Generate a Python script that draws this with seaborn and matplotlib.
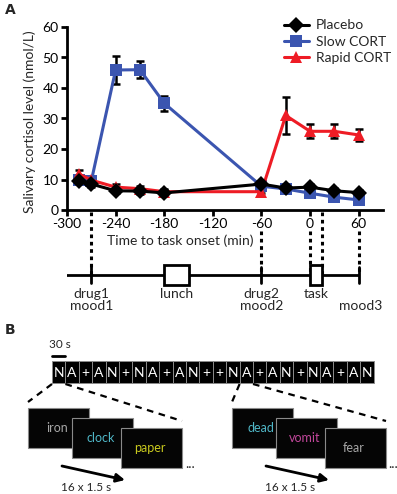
import matplotlib
matplotlib.use("Agg")
import matplotlib.pyplot as plt
import matplotlib.patches as mpatches
import numpy as np
import pandas as pd
import seaborn as sns

# ---------------- data ----------------
times = [-285, -270, -240, -210, -180, -60, -30, 0, 30, 60]
placebo = [9.5, 8.5, 6.3, 6.2, 5.6, 8.5, 7.2, 7.5, 6.3, 5.7]
placebo_sem = [1.0, 1.0, 0.8, 0.8, 0.8, 0.8, 0.8, 1.0, 1.0, 0.9]
slow = [10.0, 9.5, 45.9, 46.0, 35.0, 7.8, 6.9, 5.5, 4.2, 3.3]
slow_sem = [1.0, 1.0, 4.5, 2.8, 2.4, 0.8, 0.8, 0.8, 0.8, 0.8]
rapid = [11.8, 9.8, 7.5, 7.0, 6.0, 6.0, 31.0, 25.8, 25.8, 24.6]
rapid_sem = [1.2, 1.0, 0.9, 0.9, 0.8, 0.5, 6.0, 2.3, 2.3, 2.0]
groups = ["Placebo", "Slow CORT", "Rapid CORT"]
x_ticks = [-300, -240, -180, -120, -60, 0, 60]
y_ticks = [0, 10, 20, 30, 40, 50, 60]

# timeline events
tick_events = [-270, -60, 60]
dotted_events = [-270, -60, 0, 15, 60]
dotted_from_axis = [True, False, False, True, False]
lunch_span = (-180, -150)
task_span = (0, 15)
timeline_labels = ["drug1\nmood1", "lunch", "drug2\nmood2", "task", "\nmood3"]
timeline_label_x = [-270, -165, -60, 7.5, 62]

# panel B
sequence = list("NA+AN+NA+AN++NA+AN+NA+AN")
neutral_words = ["iron", "clock", "paper"]
neutral_colors = ["#a6a6a6", "#4fb6c6", "#c9c91e"]
negative_words = ["dead", "vomit", "fear"]
negative_colors = ["#4fb6c6", "#c2479b", "#a6a6a6"]
zoom_cells = [0, 14]
block_label = "30 s"
trial_label = "16 x 1.5 s"

# ---------------- style ----------------
sns.set_style("ticks")
plt.rcParams["font.family"] = ["Lato", "DejaVu Sans"]
BLACK = "#000000"
BLUE = "#3b55b0"
RED = "#ee1c25"
palette = {"Placebo": BLACK, "Slow CORT": BLUE, "Rapid CORT": RED}
markers = {"Placebo": "D", "Slow CORT": "s", "Rapid CORT": "^"}
FS = 10

W, H = 397, 494
fig = plt.figure(figsize=(W / 100, H / 100), dpi=100)

def fr(x0, y0, x1, y1):
    return [x0 / W, 1 - y1 / H, (x1 - x0) / W, (y1 - y0) / H]

# ---------------- panel A ----------------
ax = fig.add_axes(fr(67, 27, 383, 210))
df = pd.DataFrame({
    "time": times * 3,
    "cortisol": placebo + slow + rapid,
    "group": ["Placebo"] * len(times) + ["Slow CORT"] * len(times) + ["Rapid CORT"] * len(times),
})
sems = {"Placebo": placebo_sem, "Slow CORT": slow_sem, "Rapid CORT": rapid_sem}
means = {"Placebo": placebo, "Slow CORT": slow, "Rapid CORT": rapid}
draw_order = ["Slow CORT", "Rapid CORT", "Placebo"]
for i, g in enumerate(draw_order):
    ax.errorbar(times, means[g], yerr=sems[g], fmt="none", ecolor="black",
                elinewidth=1.8, capsize=3, capthick=1.8, zorder=2 + i * 2)
sns.lineplot(data=df, x="time", y="cortisol", hue="group", style="group",
             hue_order=draw_order, style_order=draw_order,
             palette=palette, markers=markers, dashes=False,
             markersize=8, linewidth=2.2, markeredgewidth=0,
             errorbar=None, ax=ax, legend=False)
for i, line in enumerate(ax.get_lines()):
    line.set_zorder(3 + i * 2)

ax.set_xlim(-300, 90)
ax.set_ylim(0, 60)
ax.set_xticks(x_ticks)
ax.set_yticks(y_ticks)
ax.set_xticklabels([str(t) for t in x_ticks])
ax.tick_params(axis="both", direction="out", length=4, width=2, labelsize=FS,
               pad=2, colors="black")
for s in ["top", "right"]:
    ax.spines[s].set_visible(False)
for s in ["left", "bottom"]:
    ax.spines[s].set_linewidth(2)
    ax.spines[s].set_color("black")
ax.set_xlabel("Time to task onset (min)", fontsize=FS)
ax.xaxis.set_label_coords((180 - 67) / 316, -(241 - 210) / 183)
ax.xaxis.label.set_va("center")
ax.set_ylabel("Salivary cortisol level (nmol/L)", fontsize=FS)
ax.yaxis.set_label_coords(-(67 - 30) / 316, (210 - 122) / 183)
ax.yaxis.label.set_va("center")

handles = [plt.Line2D([], [], color=palette[g], marker=markers[g], lw=2.2,
                      markersize=8, markeredgewidth=0) for g in groups]
ax.legend(handles, groups, loc="upper right", bbox_to_anchor=(1.065, 1.11),
          frameon=False, fontsize=FS, handlelength=1.8, handletextpad=0.5,
          labelspacing=0.3)

# ---------------- timeline ----------------
tl = fig.add_axes(fr(67, 212, 383, 320))
tl.set_xlim(-300, 90)
tl.set_ylim(320, 212)
tl.axis("off")
TLY = 275
tl.plot([-304, 60], [TLY, TLY], color="black", lw=2, solid_capstyle="butt")
for t in tick_events:
    tl.plot([t, t], [TLY - 8, TLY + 8], color="black", lw=2)
for t, fa in zip(dotted_events, dotted_from_axis):
    tl.plot([t, t], [212 if fa else 231, TLY], color="black", lw=2.2,
            linestyle=(0, (1.2, 1.2)))
for span in (lunch_span, task_span):
    tl.add_patch(mpatches.Rectangle((span[0], TLY - 10), span[1] - span[0], 20,
                                    facecolor="white", edgecolor="black", lw=2, zorder=5))
for lab, x in zip(timeline_labels, timeline_label_x):
    tl.text(x, 288, lab, ha="center", va="top", fontsize=FS, linespacing=1.0,
            clip_on=False)

# ---------------- overlay (labels + panel B) ----------------
ov = fig.add_axes([0, 0, 1, 1])
ov.set_xlim(0, W)
ov.set_ylim(H, 0)
ov.axis("off")
ov.text(5, 10, "A", fontsize=10, fontweight="bold", family="DejaVu Sans", va="center")
ov.text(5, 330, "B", fontsize=10, fontweight="bold", family="DejaVu Sans", va="center")

cx0, cw, cy0, cy1 = 52, 13.4, 361, 383
for i, c in enumerate(sequence):
    ov.add_patch(mpatches.Rectangle((cx0 + i * cw, cy0), cw, cy1 - cy0,
                                    facecolor="black", edgecolor="#8a8a8a", lw=0.7))
    ov.text(cx0 + i * cw + cw / 2, (cy0 + cy1) / 2 + 0.5, c, color="white",
            ha="center", va="center", fontsize=FS)
ov.plot([cx0, cx0 + cw], [356, 356], color="black", lw=2)
ov.text(cx0 + cw / 2 + 1, 350, block_label, ha="center", va="bottom", fontsize=8.5)

def screens(gx, words, colors, cell, dots_x):
    offs = [(0, 0), (44, 10), (93, 20)]
    sw, sh = 61, 40
    left = cx0 + cell * cw
    ov.plot([left, gx], [384, 402], color="black", lw=1.6, linestyle=(0, (3, 2.5)))
    ov.plot([left + cw, gx + offs[2][0] + sw], [384, 421], color="black", lw=1.6,
            linestyle=(0, (3, 2.5)))
    for (dx, dy), w, col in zip(offs, words, colors):
        ov.add_patch(mpatches.Rectangle((gx + dx, 408 + dy), sw, sh,
                                        facecolor="#050505", edgecolor="#8a8a8a", lw=0.8))
        ov.text(gx + dx + sw / 2 - 1.5, 408 + dy + 20, w, color=col,
                ha="center", va="center", fontsize=9)
    ov.text(dots_x, 464, "...", ha="center", va="center", fontsize=10)
    ov.annotate("", xy=(gx + 97, 480), xytext=(gx + 34, 466),
                arrowprops=dict(arrowstyle="-|>,head_length=0.5,head_width=0.25",
                                color="black", lw=2, shrinkA=0, shrinkB=0))
    ov.text(gx + 58, 487, trial_label, ha="center", va="center", fontsize=8.5)

screens(28, neutral_words, neutral_colors, zoom_cells[0], 190)
screens(232, negative_words, negative_colors, zoom_cells[1], 393)

fig.savefig("out.png", dpi=100)
